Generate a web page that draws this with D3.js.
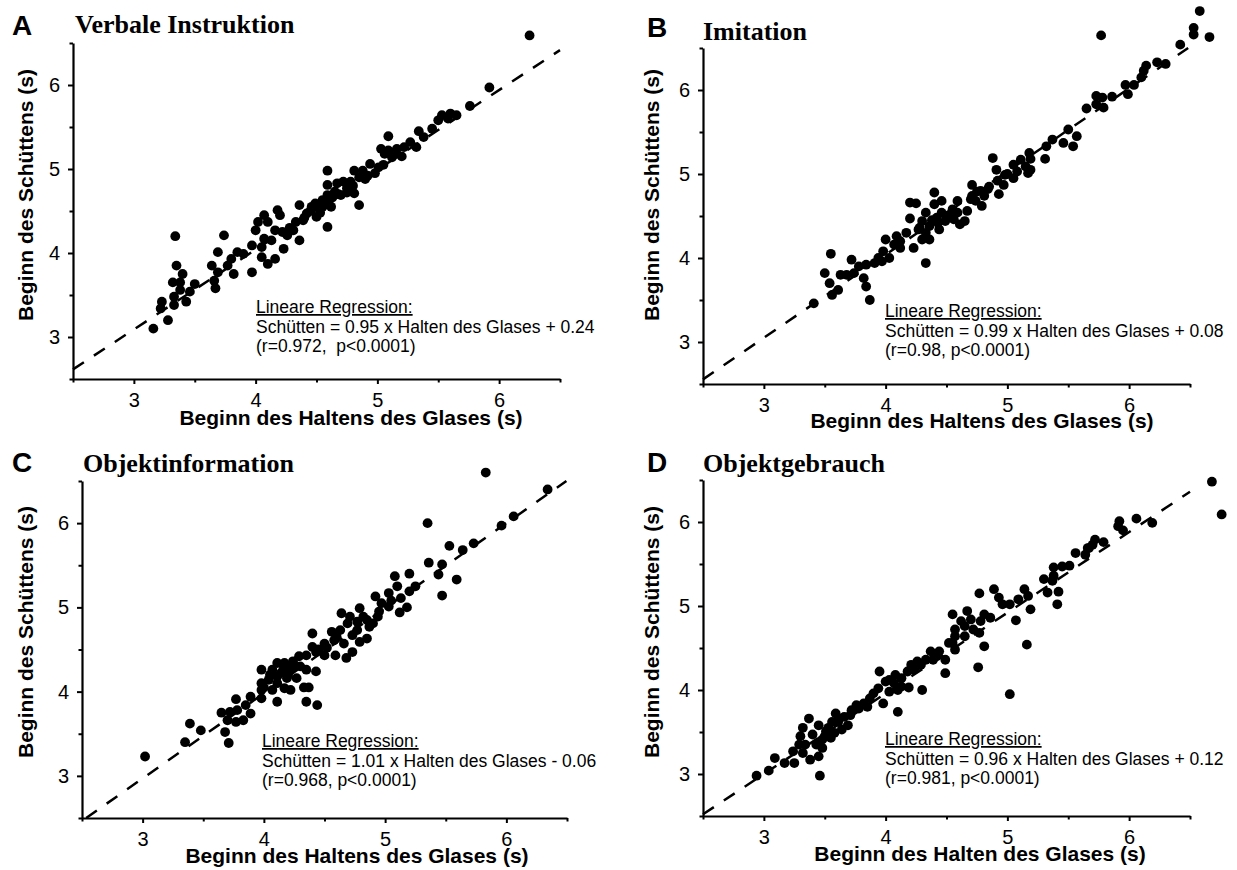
<!DOCTYPE html>
<html>
<head>
<meta charset="utf-8">
<script src="https://cdn.jsdelivr.net/npm/d3@7"></script>
<style>
  body { margin: 0; background: #fff; }
  text { font-family: "Liberation Sans", Arial, sans-serif; }
</style>
</head>
<body>
<div id="chart"></div>
<script>
// ---- data ----
var axisDomain = [2.5, 6.5];
var majorTicks = [3, 4, 5, 6];
var minorTicks = [2.5, 3.5, 4.5, 5.5, 6.5];

var panelLetters = ["A", "B", "C", "D"];
var panelTitles = ["Verbale Instruktion", "Imitation", "Objektinformation", "Objektgebrauch"];
var xLabels = ["Beginn des Haltens des Glases (s)", "Beginn des Haltens des Glases (s)",
               "Beginn des Haltens des Glases (s)", "Beginn des Halten des Glases (s)"];
var yLabel = "Beginn des Schüttens (s)";

var slopes = [0.95, 0.99, 1.01, 0.96];
var intercepts = [0.24, 0.08, -0.06, 0.12];
var regHeader = "Lineare Regression:";
var equations = ["Schütten = 0.95 x Halten des Glases + 0.24", "Schütten = 0.99 x Halten des Glases + 0.08",
                 "Schütten = 1.01 x Halten des Glases - 0.06", "Schütten = 0.96 x Halten des Glases + 0.12"];
var statLines = ["(r=0.972,  p<0.0001)", "(r=0.98, p<0.0001)", "(r=0.968, p<0.0001)", "(r=0.981, p<0.0001)"];

// [Beginn Halten, Beginn Schütten] in s
var verbalPoints = [
  [6.25,6.59],[5.92,5.97],[5.76,5.75],[5.53,5.64],[5.60,5.66],[5.65,5.64],[5.58,5.60],[5.50,5.58],
  [5.45,5.48],[5.34,5.45],[5.38,5.38],[5.32,5.26],[5.09,5.39],[5.27,5.32],[5.22,5.26],
  [5.03,5.24],[5.09,5.22],[5.16,5.24],[5.20,5.15],[5.12,5.14],[5.06,5.18],
  [4.94,5.06],[5.01,5.02],[4.88,4.98],[4.81,4.98],[4.92,4.92],[4.85,4.90],[4.78,4.85],[4.72,4.85],
  [4.75,4.77],[4.67,4.83],[4.59,4.98],[4.59,4.81],[4.65,4.73],[4.81,4.71],[4.70,4.69],[4.59,4.69],[4.85,4.57],
  [4.55,4.63],[4.49,4.59],[4.46,4.55],[4.52,4.53],[4.62,4.55],[4.42,4.47],[4.50,4.43],[4.59,4.31],
  [4.36,4.57],[4.39,4.39],[4.33,4.37],[4.31,4.27],[4.36,4.15],
  [4.18,4.51],[4.20,4.45],[4.07,4.45],[4.02,4.37],[4.10,4.37],[4.00,4.27],[4.16,4.27],[4.26,4.21],
  [4.07,4.17],[4.13,4.15],[4.23,4.05],[3.97,4.09],[4.05,4.07],[4.16,3.93],[4.10,3.87],[4.05,3.95],[3.97,3.77],
  [3.85,4.01],[3.90,3.99],[3.80,3.93],[3.77,3.85],[3.82,3.75],[3.74,4.21],[3.69,4.01],[3.64,3.85],
  [3.69,3.77],[3.66,3.67],[3.67,3.58],
  [3.50,3.63],[3.46,3.54],[3.43,3.42],[3.40,3.75],[3.38,3.65],[3.32,3.65],[3.35,3.85],[3.34,4.20],
  [3.33,3.48],[3.38,3.56],[3.33,3.38],[3.23,3.42],[3.22,3.34],[3.28,3.20],[3.16,3.10],
  [4.45,4.50],[4.55,4.55],[4.60,4.62],[4.68,4.70],[4.75,4.72],[4.80,4.80],[4.90,4.88],[4.98,4.95],
  [4.40,4.42],[4.28,4.30],[4.22,4.25],[5.05,5.05],[5.15,5.20],[4.53,4.48],[4.63,4.66]
];

var imitationPoints = [
  [6.58,6.94],[6.53,6.74],[6.53,6.66],[6.66,6.63],[5.77,6.65],[6.42,6.54],
  [6.23,6.33],[6.30,6.31],[6.14,6.29],[6.12,6.23],[6.10,6.15],[6.04,6.06],[5.97,6.06],[5.99,5.95],
  [5.86,5.92],[5.73,5.93],[5.78,5.91],[5.79,5.79],[5.73,5.83],[5.65,5.78],
  [5.50,5.53],[5.57,5.45],[5.37,5.41],[5.32,5.33],[5.46,5.37],[5.54,5.33],[5.31,5.18],
  [5.18,5.25],[5.11,5.17],[5.19,5.18],[5.05,5.11],[5.15,5.09],[5.19,5.05],[5.08,5.03],[4.98,4.99],
  [5.05,4.95],[5.17,5.01],
  [4.88,5.19],[4.91,5.05],[4.97,4.87],[4.71,4.87],[4.84,4.82],[4.75,4.79],[4.93,4.76],[4.71,4.74],
  [4.81,4.74],[4.74,4.68],[4.79,4.62],[4.67,4.56],
  [4.59,4.68],[4.46,4.68],[4.40,4.78],[4.40,4.64],[4.20,4.66],[4.25,4.65],[4.20,4.47],[4.33,4.54],
  [4.46,4.54],[4.53,4.52],[4.59,4.54],[4.56,4.46],[4.61,4.40],[4.65,4.44],[4.49,4.44],[4.43,4.42],
  [4.36,4.38],[4.30,4.44],[4.27,4.34],[4.33,4.30],[4.44,4.34],[4.30,4.22],[4.36,4.22],[4.23,4.12],[4.33,3.94],
  [4.17,4.30],[4.09,4.26],[4.00,4.22],[4.07,4.16],[3.98,4.08],[4.03,4.00],[3.94,4.00],[3.91,3.94],
  [3.97,3.96],[4.12,4.12],
  [3.84,3.92],[3.78,3.90],[3.72,3.98],[3.74,3.82],[3.68,3.80],[3.63,3.80],[3.82,3.76],[3.84,3.66],
  [3.87,3.50],[3.55,4.05],[3.50,3.82],[3.54,3.70],[3.56,3.56],[3.61,3.62],[3.41,3.46],
  [4.38,4.45],[4.42,4.48],[4.50,4.50],[4.55,4.58],[4.70,4.70],[4.78,4.80],[4.85,4.85],[4.92,4.92],
  [5.00,5.00],[4.12,4.20],[4.28,4.36]
];

var objInfoPoints = [
  [5.83,6.60],[6.34,6.40],[6.06,6.08],[5.96,5.97],[5.35,6.00],
  [5.73,5.76],[5.64,5.68],[5.53,5.73],[5.36,5.53],[5.47,5.51],[5.44,5.39],[5.59,5.33],[5.47,5.14],
  [5.20,5.40],[5.08,5.37],
  [5.25,5.25],[5.20,5.19],[5.10,5.25],[5.03,5.17],[5.13,5.11],[4.92,5.13],[4.97,5.05],[5.18,5.00],
  [5.12,4.94],[5.03,5.01],
  [4.79,4.99],[4.64,4.93],[4.71,4.89],[4.82,4.89],[4.94,4.89],[4.90,4.81],[4.77,4.83],[4.69,4.81],
  [4.87,4.77],[4.77,4.73],[4.63,4.73],[4.56,4.71],[4.73,4.67],[4.85,4.63],[4.79,4.59],[4.66,4.57],
  [4.58,4.61],[4.73,4.47],[4.68,4.40],
  [4.40,4.69],[4.50,4.57],[4.40,4.53],[4.43,4.47],[4.35,4.43],[4.50,4.43],[4.59,4.43],[4.29,4.42],
  [4.24,4.36],[4.17,4.34],[4.11,4.34],[4.30,4.30],[4.22,4.28],[4.16,4.26],[4.07,4.26],[3.98,4.26],
  [4.43,4.24],[4.35,4.26],
  [4.11,4.18],[4.19,4.16],[4.27,4.16],[4.04,4.14],[3.98,4.10],[4.11,4.10],[4.07,4.02],[4.17,4.04],
  [4.22,4.02],[4.33,4.05],[4.37,4.05],[4.35,3.88],[4.44,3.84],[4.11,3.88],[3.98,3.92],[3.89,3.94],[3.98,4.02],
  [3.77,3.91],[3.85,3.84],[3.78,3.78],[3.89,3.74],[3.83,3.66],[3.72,3.76],[3.65,3.75],[3.70,3.66],
  [3.77,3.64],[3.68,3.52],[3.71,3.39],[3.48,3.54],[3.39,3.62],[3.35,3.40],[3.02,3.23],
  [4.05,4.20],[4.14,4.22],[4.20,4.20],[4.26,4.30],[4.45,4.50],[4.52,4.52],[4.60,4.65],[4.85,4.85],
  [4.95,4.95],[5.05,5.08],[4.00,4.05]
];

var objUsePoints = [
  [6.68,6.48],[6.76,6.09],[6.19,5.99],[6.06,6.04],[5.92,6.01],[5.95,5.90],[5.91,5.95],
  [5.72,5.79],[5.70,5.73],[5.79,5.76],[5.66,5.69],[5.56,5.63],[5.64,5.61],[5.67,5.69],
  [5.51,5.48],[5.45,5.47],[5.38,5.46],[5.30,5.32],[5.37,5.30],[5.33,5.16],[5.42,5.17],[5.41,5.02],[5.38,5.36],
  [5.14,5.20],[5.17,5.12],[5.09,5.08],[5.02,5.02],[4.96,5.02],[4.89,5.20],[4.93,5.10],[5.19,4.96],
  [5.07,4.83],[5.16,4.54],[5.02,3.95],
  [4.77,5.15],[4.81,4.90],[4.86,4.86],[4.78,4.82],[4.67,4.94],[4.70,4.84],[4.55,4.90],[4.62,4.82],
  [4.65,4.76],[4.72,4.72],[4.57,4.72],[4.65,4.64],[4.77,4.68],[4.81,4.52],[4.76,4.27],[4.57,4.64],
  [4.55,4.56],[4.52,4.56],[4.57,4.48],
  [4.37,4.46],[4.44,4.46],[4.49,4.36],[4.39,4.36],[4.33,4.36],[4.26,4.34],[4.29,4.30],[4.21,4.30],
  [4.23,4.24],[4.49,4.20],[4.30,4.00],
  [4.08,4.18],[4.13,4.14],[4.03,4.12],[3.95,4.22],[4.00,4.10],[4.07,4.08],[4.13,4.04],[4.19,4.03],
  [4.10,4.00],[4.03,3.98],[3.94,4.02],[3.90,3.96],[3.98,3.84],[4.10,3.74],[3.87,3.90],[3.82,3.84],[3.76,3.82],
  [3.72,3.76],[3.71,3.70],[3.66,3.68],[3.59,3.72],[3.56,3.62],[3.61,3.62],[3.69,3.58],[3.64,3.53],
  [3.58,3.49],[3.51,3.51],[3.55,3.43],[3.48,3.41],[3.45,3.58],[3.40,3.47],[3.37,3.66],[3.32,3.55],
  [3.30,3.45],[3.43,3.35],[3.48,3.31],[3.34,3.35],[3.29,3.35],[3.24,3.27],[3.32,3.25],[3.25,3.13],
  [3.38,3.17],[3.45,3.21],[3.17,3.13],[3.09,3.19],[3.04,3.04],[2.94,2.98],[3.46,2.98],
  [3.50,3.45],[3.53,3.55],[3.62,3.66],[3.78,3.78],[3.85,3.80],[4.18,4.22],[4.25,4.28],[4.42,4.40]
];

var panelPoints = [verbalPoints, imitationPoints, objInfoPoints, objUsePoints];

// ---- layout ----
var W = 1237, H = 870;
var layout = [
  {x0: 73,  x1: 560,  yb: 379, yt: 43,  letter: [12, 35],  title: [75, 33],   ylab: [33, 195],  xlab: [351, 425], reg: [256, 313]},
  {x0: 703, x1: 1190, yb: 384, yt: 48,  letter: [647, 37], title: [703, 40],  ylab: [659, 195], xlab: [982, 428], reg: [885, 317]},
  {x0: 82,  x1: 567,  yb: 818, yt: 481, letter: [12, 472], title: [83, 472],  ylab: [33, 632],  xlab: [357, 863], reg: [262, 747]},
  {x0: 703, x1: 1190, yb: 816, yt: 480, letter: [647, 472], title: [703, 472], ylab: [659, 632], xlab: [980, 861], reg: [885, 745]}
];

var svg = d3.select("#chart").append("svg")
  .attr("width", W).attr("height", H)
  .style("background", "#fff");

panelPoints.forEach(function(points, i) {
  var L = layout[i];
  var x = d3.scaleLinear().domain(axisDomain).range([L.x0, L.x1]);
  var y = d3.scaleLinear().domain(axisDomain).range([L.yb, L.yt]);
  var g = svg.append("g");

  // regression line, clipped to the axis box
  var m = slopes[i], b = intercepts[i];
  var xa = Math.max(axisDomain[0], (axisDomain[0] - b) / m);
  var xb = Math.min(axisDomain[1], (axisDomain[1] - b) / m);
  var line = d3.line().x(function(d) { return x(d[0]); }).y(function(d) { return y(d[1]); });
  g.append("path")
    .datum([[xa, m * xa + b], [xb, m * xb + b]])
    .attr("d", line)
    .attr("fill", "none")
    .attr("stroke", "#000")
    .attr("stroke-width", 2.5)
    .attr("stroke-dasharray", "13,12");

  // points
  g.selectAll("circle.pt")
    .data(points)
    .enter().append("circle")
    .attr("class", "pt")
    .attr("cx", function(d) { return x(d[0]); })
    .attr("cy", function(d) { return y(d[1]); })
    .attr("r", 4.9)
    .attr("fill", "#000");

  // axes (major ticks with labels, minor ticks without)
  g.append("g").attr("transform", "translate(0," + L.yb + ")")
    .call(d3.axisBottom(x).tickValues(majorTicks).tickSize(5).tickSizeOuter(0).tickPadding(9).tickFormat(d3.format("d")));
  g.append("g").attr("transform", "translate(0," + L.yb + ")")
    .call(d3.axisBottom(x).tickValues(minorTicks).tickSize(3.5).tickFormat(""))
    .select(".domain").remove();
  g.append("g").attr("transform", "translate(" + L.x0 + ",0)")
    .call(d3.axisLeft(y).tickValues(majorTicks).tickSize(5).tickSizeOuter(0).tickPadding(8).tickFormat(d3.format("d")));
  g.append("g").attr("transform", "translate(" + L.x0 + ",0)")
    .call(d3.axisLeft(y).tickValues(minorTicks).tickSize(3.5).tickFormat(""))
    .select(".domain").remove();

  g.selectAll(".domain").attr("stroke-width", 2.2);
  g.selectAll(".tick line").attr("stroke-width", 2);
  g.selectAll(".tick text")
    .attr("font-size", 20)
    .attr("font-family", "'Liberation Sans', Arial, sans-serif")
    .attr("fill", "#000");

  // panel letter and title
  g.append("text")
    .attr("x", L.letter[0]).attr("y", L.letter[1])
    .attr("font-size", 28).attr("font-weight", "bold")
    .text(panelLetters[i]);
  g.append("text")
    .attr("x", L.title[0]).attr("y", L.title[1])
    .attr("font-size", 26).attr("font-weight", "bold")
    .style("font-family", "'Liberation Serif', 'Times New Roman', serif")
    .text(panelTitles[i]);

  // axis labels
  g.append("text")
    .attr("transform", "translate(" + L.ylab[0] + "," + L.ylab[1] + ") rotate(-90)")
    .attr("text-anchor", "middle")
    .attr("font-size", 21).attr("font-weight", "bold")
    .text(yLabel);
  g.append("text")
    .attr("x", L.xlab[0]).attr("y", L.xlab[1])
    .attr("text-anchor", "middle")
    .attr("font-size", 21).attr("font-weight", "bold")
    .text(xLabels[i]);

  // regression text
  var reg = g.append("g").attr("font-size", 17.5);
  reg.append("text").attr("x", L.reg[0]).attr("y", L.reg[1])
    .style("text-decoration", "underline")
    .text(regHeader);
  reg.append("text").attr("x", L.reg[0]).attr("y", L.reg[1] + 19.5)
    .text(equations[i]);
  reg.append("text").attr("x", L.reg[0]).attr("y", L.reg[1] + 39)
    .attr("xml:space", "preserve")
    .style("white-space", "pre")
    .text(statLines[i]);
});
</script>
</body>
</html>
